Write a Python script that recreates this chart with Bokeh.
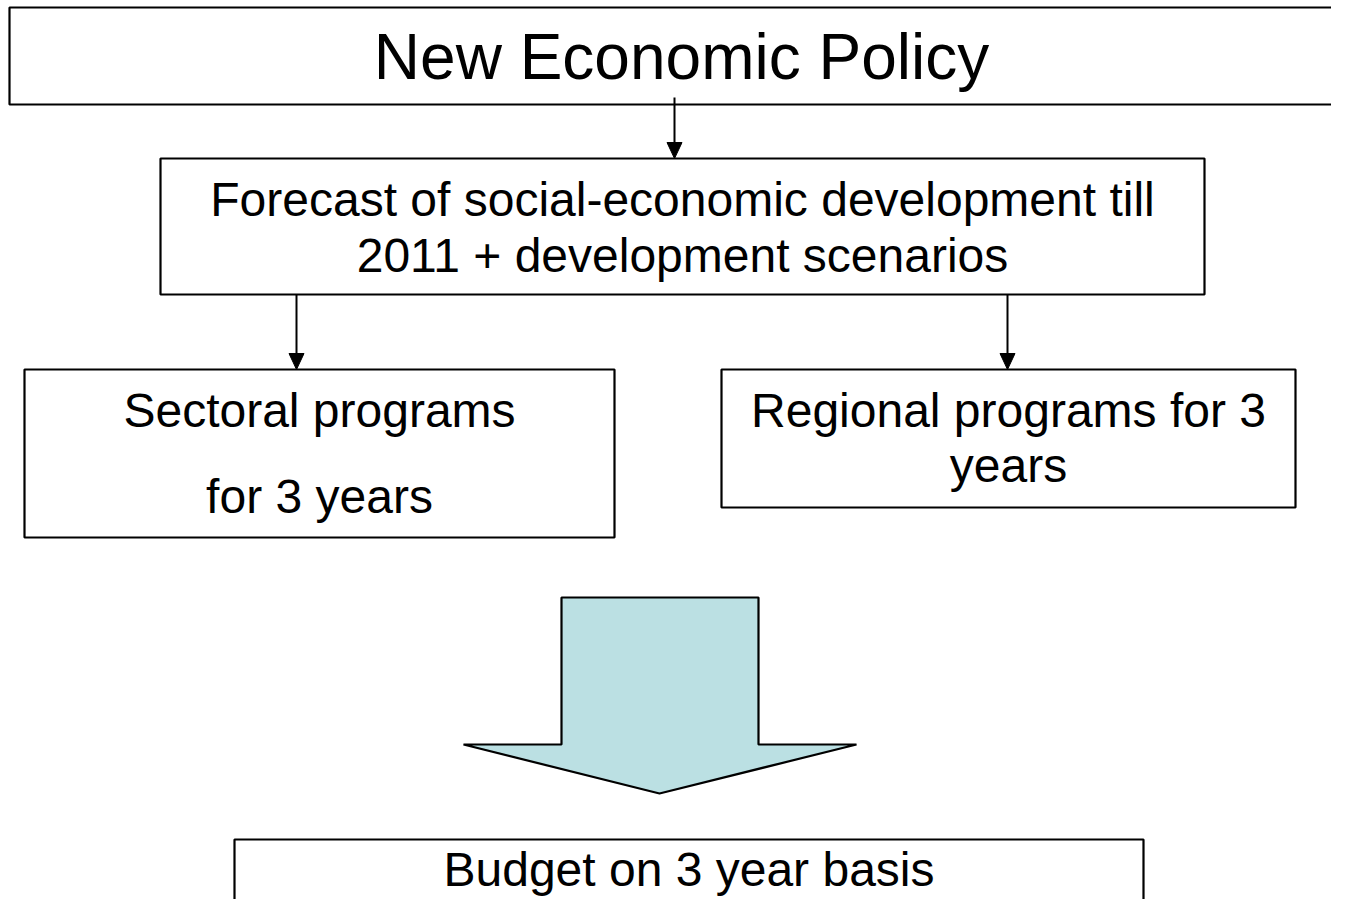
from bokeh.plotting import figure
from bokeh.models import Range1d, ColumnDataSource
from bokeh.core.properties import value
from bokeh.embed import file_html
from bokeh.resources import INLINE

# ---- content ----
box_names = ["policy", "forecast", "sectoral", "regional", "budget"]
box_lines = [
    ["New Economic Policy"],
    ["Forecast of social-economic development till", "2011 + development scenarios"],
    ["Sectoral programs", "for 3 years"],
    ["Regional programs for 3", "years"],
    ["Budget on 3 year basis"],
]
font_px = [64, 48, 48, 48, 48]

# ---- layout (picture pixel coordinates) ----
box_left = [9, 160, 24, 721, 234]
box_top = [7, 158, 369, 369, 839]
box_right = [1353, 1204, 614, 1295, 1143]
box_bottom = [104, 294, 537, 507, 1000]
baselines = [[80], [216, 272], [427, 513], [427, 482], [886]]
baseline_fix = 0.36  # em offset of the svg backend's alphabetic anchor

arrows = [  # x, y_start, y_tip
    (674, 97, 158),
    (296, 294, 369),
    (1007, 294, 369),
]
head_len = 16
head_half = 7.5

big_arrow_x = [561, 758, 758, 856, 659, 463, 561]
big_arrow_y = [597, 597, 744, 744, 793, 744, 744]

W, H = 1331, 899
p = figure(width=W, height=H, output_backend="svg", toolbar_location=None,
           x_range=Range1d(0, W), y_range=Range1d(H, 0),
           min_border=0, outline_line_color=None)
p.xaxis.visible = False
p.yaxis.visible = False
p.grid.visible = False
p.background_fill_color = "white"
p.border_fill_color = "white"

src = ColumnDataSource(dict(left=box_left, right=box_right, top=box_top, bottom=box_bottom))
p.quad(left="left", right="right", top="top", bottom="bottom", source=src,
       fill_color="white", line_color="black", line_width=2.2)

# connector arrows
for x, y0, y1 in arrows:
    p.segment(x0=[x], y0=[y0], x1=[x], y1=[y1 - head_len + 1], line_color="black", line_width=2)
    p.patch(x=[x - head_half, x + head_half, x], y=[y1 - head_len, y1 - head_len, y1],
            fill_color="black", line_color="black", line_width=1)

# big block arrow
p.patch(x=big_arrow_x, y=big_arrow_y, fill_color="#BBE0E3", line_color="black", line_width=2.2)

# texts
for i, lines in enumerate(box_lines):
    cx = (box_left[i] + box_right[i]) / 2
    for j, t in enumerate(lines):
        p.text(x=[cx], y=[baselines[i][j] - baseline_fix * font_px[i]], text=[t],
               text_font=value("Liberation Sans"),
               text_font_size=f"{font_px[i]}px", text_align="center", text_baseline="alphabetic",
               text_color="black")

open("out.html", "w").write(file_html(p, INLINE))
